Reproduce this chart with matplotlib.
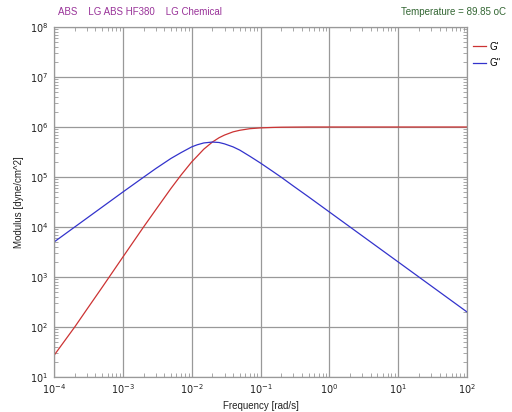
import matplotlib
matplotlib.use("Agg")
import matplotlib.pyplot as plt
from matplotlib.ticker import LogLocator, NullFormatter

plt.rcParams['font.family'] = ['Liberation Sans Narrow', 'Liberation Sans', 'DejaVu Sans']

# values (frequency in rad/s, modulus in dyne/cm^2)
freq = [1e-4, 2e-4, 3e-4, 5e-4, 1e-3, 2e-3, 3e-3, 5e-3, 7e-3, 1e-2, 1.2e-2,
        1.5e-2, 2e-2, 2.5e-2, 3e-2, 4e-2, 5e-2, 7e-2, 1e-1, 1.5e-1, 2e-1, 3e-1,
        5e-1, 1e0, 2e0, 5e0, 1e1, 2e1, 5e1, 1e2]
g_storage = [27, 100, 225, 620, 2500, 1.0e4, 2.2e4, 5.9e4, 1.09e5, 2.0e5, 2.6e5,
             3.6e5, 5.0e5, 6.1e5, 6.9e5, 8.0e5, 8.6e5, 9.25e5, 9.6e5, 9.8e5, 9.9e5,
             9.95e5, 1.0e6, 1.0e6, 1.0e6, 1.0e6, 1.0e6, 1.0e6, 1.0e6, 1.0e6]
g_loss = [5000, 1.0e4, 1.5e4, 2.5e4, 5.0e4, 9.9e4, 1.47e5, 2.35e5, 3.07e5, 4.0e5,
          4.4e5, 4.8e5, 5.0e5, 4.9e5, 4.6e5, 4.0e5, 3.45e5, 2.6e5, 1.9e5, 1.3e5,
          9.9e4, 6.6e4, 4.0e4, 2.0e4, 1.0e4, 4.0e3, 2.0e3, 1.0e3, 400, 200]

x_ticks = [1e-4, 1e-3, 1e-2, 1e-1, 1e0, 1e1, 1e2]
x_labels = ['$10^{-4}$', '$10^{-3}$', '$10^{-2}$', '$10^{-1}$', '$10^{0}$', '$10^{1}$', '$10^{2}$']
y_ticks = [1e1, 1e2, 1e3, 1e4, 1e5, 1e6, 1e7, 1e8]
y_labels = ['$10^{%d}$' % k for k in range(1, 9)]

fig = plt.figure(figsize=(5.12, 4.12), dpi=100)
ax = fig.add_axes([54 / 512, 1 - 377 / 412, 413 / 512, 350 / 412])

ax.plot(freq, g_storage, color='#cc3333', lw=0.9, label="G'")
ax.plot(freq, g_loss, color='#3333cc', lw=0.9, label="G''")

ax.set_xscale('log')
ax.set_yscale('log')
ax.set_xlim(1e-4, 1e2)
ax.set_ylim(1e1, 1e8)

ax.set_xticks(x_ticks)
ax.set_xticklabels(x_labels)
ax.set_yticks(y_ticks)
ax.set_yticklabels(y_labels)
ax.xaxis.set_minor_locator(LogLocator(base=10, subs=range(2, 10), numticks=20))
ax.yaxis.set_minor_locator(LogLocator(base=10, subs=range(2, 10), numticks=20))
ax.xaxis.set_minor_formatter(NullFormatter())
ax.yaxis.set_minor_formatter(NullFormatter())

ax.grid(True, which='major', color='#999999', lw=0.9)
ax.tick_params(which='major', length=0, labelsize=7, colors='#222222')
ax.tick_params(axis='x', which='major', pad=4)
ax.tick_params(axis='y', which='major', pad=4)
ax.tick_params(which='minor', direction='in', length=3, width=0.6, color='#999999',
               top=True, right=True)
for s in ax.spines.values():
    s.set_color('#999999')
    s.set_linewidth(0.9)

ax.set_xlabel('Frequency [rad/s]', fontsize=7, color='#222222', labelpad=3)
ax.set_ylabel('Modulus [dyne/cm^2]', fontsize=7, color='#222222', labelpad=4)

fig.text(58 / 512, 1 - 12 / 412, 'ABS    LG ABS HF380    LG Chemical',
         fontsize=7, color='#993399', va='center')
fig.text(506 / 512, 1 - 12 / 412, 'Temperature = 89.85 oC',
         fontsize=7, color='#336633', va='center', ha='right')

ax.legend(loc='upper left', bbox_to_anchor=(1.0, 0.975), frameon=False,
          fontsize=7, handlelength=1.4, handletextpad=0.3, labelspacing=0.65,
          borderaxespad=0.2)

fig.savefig('out.png', dpi=100)
